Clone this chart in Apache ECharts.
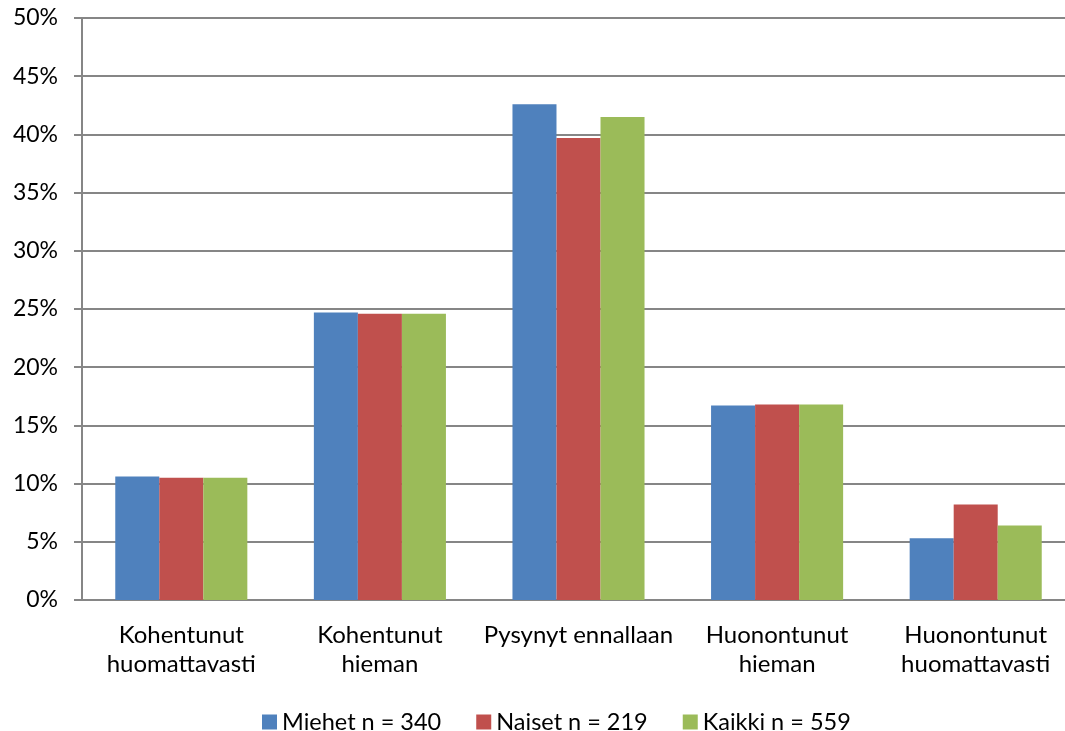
<!DOCTYPE html>
<html>
<head>
<meta charset="utf-8">
<script src="https://cdn.jsdelivr.net/npm/echarts@6/dist/echarts.min.js"></script>
<style>
  html, body { margin: 0; padding: 0; background: #fff; }
  #cht { width: 1065px; height: 731px; }
</style>
</head>
<body>
<div id="cht"></div>
<script>
const categories = [
  'Kohentunut\nhuomattavasti',
  'Kohentunut\nhieman',
  'Pysynyt ennallaan',
  'Huonontunut\nhieman',
  'Huonontunut\nhuomattavasti',
];
const seriesNames = ['Miehet n = 340', 'Naiset n = 219', 'Kaikki n = 559'];
const miehet = [10.6, 24.7, 42.6, 16.7, 5.3];
const naiset = [10.5, 24.6, 39.7, 16.8, 8.2];
const kaikki = [10.5, 24.6, 41.5, 16.8, 6.4];
const colors = ['#4F81BD', '#C0504D', '#9BBB59'];

const cht = echarts.init(document.getElementById('cht'));
const font = 'Lato, "Open Sans", sans-serif';

const option = {
  animation: false,
  textStyle: { fontFamily: font },
  grid: { left: 82, width: 993, top: 18, bottom: 131, outerBoundsMode: 'none' },
  legend: {
    top: 705,
    left: 257,
    width: 800,
    itemWidth: 15,
    itemHeight: 15,
    itemGap: 35,
    icon: 'rect',
    textStyle: { fontSize: 23.5, color: '#000', fontFamily: font },
    data: seriesNames,
  },
  xAxis: {
    type: 'category',
    data: categories,
    axisLine: { lineStyle: { color: '#868686', width: 2 } },
    axisTick: { length: 8, lineStyle: { color: '#868686', width: 2 } },
    axisLabel: {
      color: '#000',
      fontSize: 24,
      lineHeight: 29,
      margin: 21,
      interval: 0,
      fontFamily: font,
    },
  },
  yAxis: {
    type: 'value',
    min: 0,
    max: 50,
    interval: 5,
    axisLine: { show: true, lineStyle: { color: '#868686', width: 2 } },
    axisTick: { show: true, length: 8, lineStyle: { color: '#868686', width: 2 } },
    splitLine: { lineStyle: { color: '#868686', width: 2 } },
    axisLabel: {
      color: '#000',
      fontSize: 23,
      margin: 24,
      formatter: '{value}%',
      fontFamily: font,
    },
  },
  series: [miehet, naiset, kaikki].map((d, i) => ({
    name: seriesNames[i],
    type: 'bar',
    data: d,
    barGap: '0%',
    barCategoryGap: '33.5%',
    itemStyle: { color: colors[i] },
  })),
};

cht.setOption(option);
window.onresize = () => cht.resize();
</script>
</body>
</html>
